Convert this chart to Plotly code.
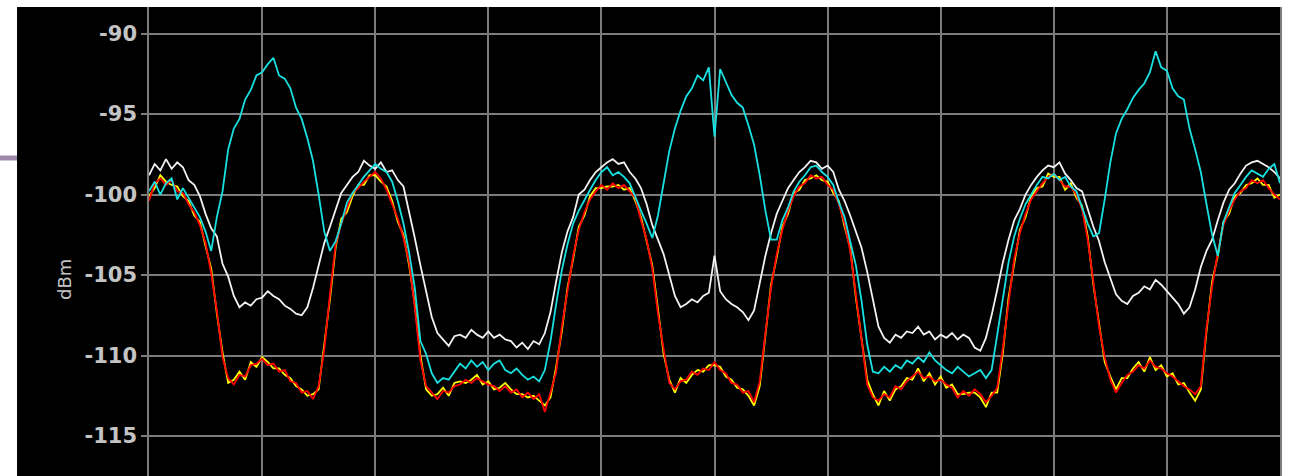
import plotly.graph_objects as go

# Sweep samples: 201 points across 10 horizontal divisions (20 samples per division)
sample = list(range(201))

# Trace levels in dBm
white_dbm = [
    -98.8, -98.1, -98.5, -97.8, -98.4, -98.0, -98.3, -99.1, -99.4, -100.1,
    -101.2, -102.1, -102.6, -104.3, -105.1, -106.3, -107.0, -106.7, -106.9, -106.5,
    -106.4, -106.0, -106.3, -106.5, -106.9, -107.1, -107.4, -107.5, -107.0, -105.8,
    -104.4, -103.0, -102.0, -101.0, -99.9, -99.4, -98.9, -98.6, -97.9, -98.2,
    -98.4, -98.0, -98.6, -98.5, -99.1, -99.5, -101.0, -102.7, -104.4, -105.9,
    -107.6, -108.6, -109.0, -109.4, -108.8, -108.7, -108.9, -108.4, -108.7, -108.9,
    -108.5, -108.9, -108.7, -109.0, -109.1, -109.5, -109.2, -109.6, -109.1, -109.3,
    -108.6, -107.3, -105.4, -103.6, -102.3, -101.4, -100.0, -99.7, -99.1, -98.6,
    -98.3, -98.0, -97.8, -98.1, -98.0, -98.6, -99.0, -99.6, -100.6, -101.9,
    -102.8, -103.7, -105.0, -106.3, -107.0, -106.8, -106.5, -106.7, -106.3, -106.1,
    -103.8, -106.0, -106.5, -106.8, -107.0, -107.3, -107.8, -107.2, -105.5, -103.8,
    -102.4, -101.2, -100.4, -99.6, -99.1, -98.6, -98.3, -97.9, -98.0, -98.4,
    -98.2, -98.6, -99.7, -100.4, -101.3, -102.3, -103.3, -104.8, -106.6, -108.2,
    -108.9, -109.2, -108.7, -108.9, -108.5, -108.6, -108.2, -108.7, -108.5, -109.0,
    -108.7, -108.9, -108.6, -109.0, -108.7, -108.9, -109.5, -109.7, -108.9, -107.5,
    -105.9, -104.2, -102.8, -101.6, -100.9, -100.0, -99.4, -98.9, -98.5, -98.2,
    -98.3, -98.0, -98.7, -99.1, -99.6, -99.8, -100.9, -102.0, -102.9, -104.2,
    -105.2, -106.2, -106.6, -106.8, -106.3, -106.1, -105.7, -105.9, -105.3, -105.6,
    -106.0, -106.4, -106.8, -107.4, -107.0, -105.9, -104.5, -103.5, -102.8, -101.6,
    -100.5, -99.7, -99.3, -98.7, -98.2, -98.0, -97.9, -98.1, -98.3, -98.6, -99.0,
]

yellow_dbm = [
    -100.1, -99.6, -98.8, -99.2, -99.4, -99.5, -100.1, -100.4, -101.3, -101.7,
    -103.2, -104.6, -107.4, -109.8, -111.7, -111.5, -111.0, -111.5, -110.4, -110.7,
    -110.1, -110.4, -110.8, -110.8, -111.2, -111.4, -111.9, -112.1, -112.5, -112.4,
    -112.1, -109.3, -106.5, -103.3, -101.5, -101.1, -100.1, -99.4, -99.4, -98.8,
    -98.8, -99.2, -99.5, -100.4, -101.7, -102.5, -104.4, -106.8, -110.0, -112.1,
    -112.5, -112.4, -112.0, -112.5, -111.7, -111.6, -111.7, -111.5, -111.2, -111.8,
    -111.6, -112.1, -112.0, -111.7, -112.1, -112.4, -112.4, -112.6, -112.5, -112.8,
    -113.1, -112.6, -110.7, -108.5, -105.8, -104.0, -102.0, -101.3, -100.1, -99.6,
    -99.6, -99.5, -99.5, -99.4, -99.7, -99.6, -100.4, -101.4, -103.0, -104.4,
    -107.1, -109.9, -111.5, -112.3, -111.4, -111.7, -111.2, -110.9, -111.0, -110.6,
    -110.6, -110.7, -111.3, -111.5, -112.0, -112.1, -112.5, -113.1, -111.9, -108.8,
    -105.6, -103.9, -102.0, -101.2, -99.9, -99.7, -99.1, -99.0, -98.8, -99.1,
    -99.2, -99.9, -100.4, -102.0, -103.3, -106.4, -108.8, -111.5, -112.4, -113.1,
    -112.2, -112.8, -112.1, -111.9, -111.4, -111.5, -110.8, -111.6, -111.1, -111.8,
    -111.3, -112.0, -111.8, -112.4, -112.4, -112.3, -112.3, -112.6, -113.2, -112.3,
    -112.3, -109.8, -106.4, -104.2, -102.2, -101.4, -100.1, -99.6, -99.5, -98.7,
    -98.9, -98.9, -99.7, -99.3, -100.2, -100.7, -102.6, -105.6, -108.0, -110.4,
    -111.3, -112.1, -111.4, -111.4, -110.8, -110.4, -111.0, -110.1, -110.9, -110.6,
    -111.3, -111.1, -111.8, -111.7, -112.3, -112.8, -112.1, -108.5, -105.4, -103.8,
    -101.7, -101.2, -100.1, -99.9, -99.4, -99.3, -99.0, -99.4, -99.4, -100.2, -100.0,
]

red_dbm = [
    -100.4, -99.3, -99.0, -99.4, -99.1, -99.8, -99.9, -100.6, -101.1, -101.9,
    -103.0, -104.9, -107.2, -110.1, -111.4, -111.8, -111.2, -111.3, -110.6, -110.5,
    -110.2, -110.6, -110.5, -111.0, -110.9, -111.6, -111.7, -112.3, -112.2, -112.7,
    -111.9, -109.6, -106.2, -103.1, -101.8, -100.9, -99.9, -99.6, -99.2, -98.9,
    -98.6, -99.0, -99.7, -100.6, -101.5, -102.7, -104.2, -107.0, -110.3, -111.9,
    -112.3, -112.7, -112.2, -112.3, -111.9, -111.8, -111.5, -111.7, -111.4, -111.6,
    -111.8, -111.9, -112.2, -111.9, -112.3, -112.1, -112.6, -112.3, -112.7, -112.4,
    -113.5, -112.3, -111.0, -108.2, -106.1, -103.8, -102.2, -101.1, -100.3, -99.8,
    -99.4, -99.7, -99.3, -99.6, -99.4, -99.8, -100.2, -101.6, -102.8, -104.6,
    -107.4, -109.6, -111.7, -112.1, -111.6, -111.5, -111.0, -111.2, -110.8, -110.9,
    -110.4, -110.9, -111.1, -111.7, -111.8, -112.3, -112.2, -112.9, -111.6, -108.6,
    -105.8, -103.7, -102.2, -101.0, -100.1, -99.5, -99.3, -98.8, -99.0, -98.9,
    -99.4, -99.7, -100.6, -101.8, -103.5, -106.2, -109.0, -111.8, -112.6, -112.8,
    -112.4, -112.6, -111.9, -112.1, -111.6, -111.3, -111.0, -111.4, -111.3, -111.6,
    -111.5, -111.8, -112.0, -112.6, -112.2, -112.5, -112.1, -112.4, -112.9, -112.5,
    -112.0, -109.5, -106.6, -104.0, -102.4, -101.2, -100.3, -99.8, -99.3, -98.9,
    -98.7, -99.1, -99.5, -99.5, -100.0, -100.9, -102.8, -105.4, -108.2, -110.1,
    -111.5, -112.3, -111.7, -111.2, -111.0, -110.6, -110.8, -110.3, -110.7, -110.8,
    -111.1, -111.3, -111.6, -111.9, -112.1, -112.4, -111.9, -108.3, -105.7, -103.6,
    -101.9, -101.0, -100.3, -99.8, -99.6, -99.1, -99.3, -99.1, -99.6, -100.0, -100.3,
]

cyan_dbm = [
    -99.8, -99.2, -100.0, -99.3, -99.0, -100.3, -99.6, -100.2, -100.8, -101.4,
    -102.3, -103.5, -101.4, -99.8, -97.2, -95.9, -95.3, -94.1, -93.5, -92.6,
    -92.4, -91.9, -91.5, -92.6, -92.8, -93.4, -94.6, -95.3, -96.5, -97.9,
    -100.0, -102.3, -103.5, -102.9, -101.8, -100.5, -99.9, -99.4, -98.9, -98.5,
    -98.1, -98.4, -98.6, -99.2, -100.4, -101.8, -103.6, -105.8, -109.1, -109.9,
    -111.1, -111.7, -111.4, -111.5, -111.0, -110.5, -110.8, -110.3, -110.7, -110.4,
    -110.9, -110.5, -110.3, -110.9, -111.1, -110.8, -111.2, -111.5, -111.3, -111.6,
    -110.9, -109.1, -106.8, -104.7, -103.1, -101.8, -101.0, -100.3, -99.7, -99.1,
    -98.6, -98.3, -98.8, -98.6, -98.9, -99.3, -100.2, -101.0, -101.8, -102.7,
    -101.3, -99.2, -97.3, -95.9, -94.8, -93.9, -93.4, -92.6, -92.9, -92.1,
    -96.4, -92.2, -93.0, -93.8, -94.3, -94.6, -95.7, -96.9, -98.8, -101.0,
    -102.8, -102.8, -101.6, -100.8, -99.8, -99.2, -98.8, -98.3, -98.2, -98.6,
    -98.9, -99.4, -100.5, -101.4, -102.9, -104.4, -106.6, -109.3, -111.0, -111.1,
    -110.7, -111.0, -110.6, -110.8, -110.3, -110.5, -110.1, -110.4, -109.8, -110.3,
    -110.6, -110.9, -111.1, -110.7, -111.0, -111.3, -111.1, -110.9, -111.4, -110.9,
    -108.7, -106.4, -104.2, -102.6, -101.5, -100.6, -100.0, -99.4, -98.9, -99.0,
    -98.7, -99.1, -98.9, -99.5, -99.8, -100.8, -101.8, -102.6, -102.4, -100.3,
    -98.0, -96.2, -95.3, -94.7, -94.0, -93.5, -93.1, -92.4, -91.1, -92.1,
    -92.3, -93.4, -93.9, -94.1, -95.9, -97.2, -98.6, -100.6, -102.5, -103.8,
    -101.7, -100.8, -99.9, -99.4, -98.9, -98.5, -98.7, -98.9, -98.4, -98.1, -99.3,
]

# y-axis tick positions and labels
y_ticks = [-115, -110, -105, -100, -95, -90]
y_tick_text = ["-115", "-110", "-105", "-100", "-95", "-90"]

traces = [
    ("white", white_dbm, "#f2f2f2"),
    ("yellow", yellow_dbm, "#ffff00"),
    ("red", red_dbm, "#ff0000"),
    ("cyan", cyan_dbm, "#19e0e0"),
]

fig = go.Figure()
for name, values, color in traces:
    fig.add_trace(go.Scatter(
        x=sample, y=values, mode="lines", name=name,
        line=dict(color=color, width=1.8), showlegend=False,
    ))

grid = "#7c7c7c"
label_color = "#c4c4c4"
plot_w = 1289 - 149 - 9
plot_h = 476 - 7

fig.update_layout(
    width=1289, height=476,
    margin=dict(l=149, r=9, t=7, b=0, pad=0),
    paper_bgcolor="#ffffff",
    plot_bgcolor="#000000",
    xaxis=dict(
        range=[0, 200], tick0=0, dtick=20, showticklabels=False,
        showgrid=True, gridcolor=grid, gridwidth=1.5, zeroline=False,
        ticks="",
    ),
    yaxis=dict(
        range=[-117.48, -88.35], tickmode="array",
        tickvals=y_ticks, ticktext=y_tick_text,
        showgrid=True, gridcolor=grid, gridwidth=1.5, zeroline=False,
        ticks="outside", ticklen=6, tickwidth=2, tickcolor=grid,
        tickfont=dict(family="DejaVu Sans", size=21, color=label_color, weight="bold"),
        showline=True, linecolor=grid, linewidth=1.5, mirror=True,
    ),
    shapes=[
        # dark panel behind the tick labels
        dict(type="rect", xref="paper", yref="paper",
             x0=-(149 - 17) / plot_w, x1=0, y0=0, y1=1,
             fillcolor="#000000", line=dict(width=0), layer="below"),
        # short marker line at the left edge
        dict(type="line", xref="paper", yref="paper",
             x0=-149 / plot_w, x1=-(149 - 17) / plot_w,
             y0=(476 - 158) / plot_h, y1=(476 - 158) / plot_h,
             line=dict(color="#9d88aa", width=5)),
    ],
    annotations=[
        dict(text="dBm", xref="paper", yref="paper",
             x=-(149 - 64) / plot_w, y=(476 - 280) / plot_h,
             xanchor="center", yanchor="middle", textangle=-90, showarrow=False,
             font=dict(family="DejaVu Sans", size=18, color=label_color)),
    ],
)

fig.write_html("out.html")
